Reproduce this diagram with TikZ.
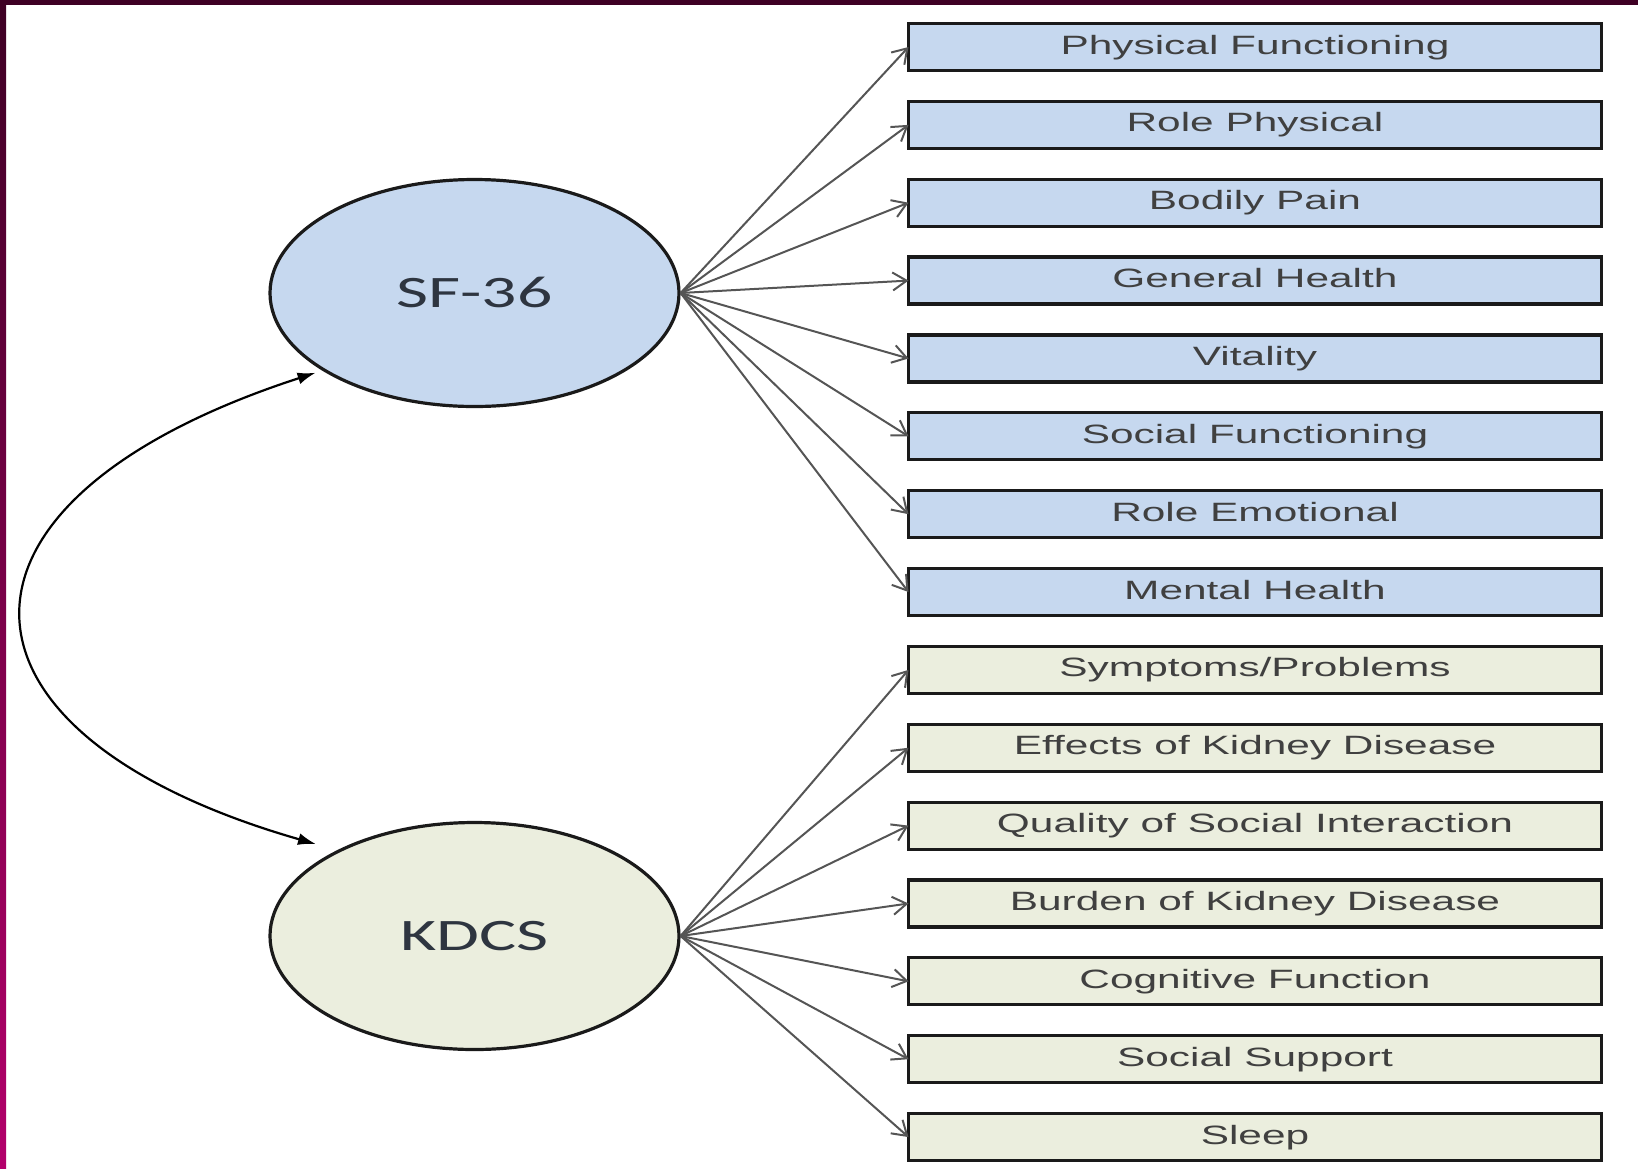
\documentclass[tikz,border=0pt]{standalone}
\usepackage{fontspec}
\usepackage{tikz}
\usetikzlibrary{shapes,arrows,arrows.meta,positioning,calc}
\newfontfamily\boxfont[FakeStretch=1.6]{Liberation Sans}
\newfontfamily\ovalfont[FakeStretch=1.55]{Carlito}
\definecolor{sfblue}{HTML}{C6D8EF}
\definecolor{kdbeige}{HTML}{EBEEDE}
\definecolor{ink}{HTML}{404040}
\definecolor{ovalink}{HTML}{2E3540}
\definecolor{rim}{HTML}{1A1A1A}
\definecolor{wire}{HTML}{555555}
\definecolor{slidetop}{HTML}{3E0024}
\definecolor{slidelow}{HTML}{B3006B}
\tikzstyle{instrument} = [ellipse, draw=rim, line width=3.2pt, minimum width=409pt, minimum height=227pt, inner sep=0pt, text=ovalink, text height=29pt, text depth=0pt, execute at begin node=\ovalfont\fontsize{45}{45}\selectfont]
\tikzstyle{subscale} = [rectangle, draw=rim, line width=3.2pt, minimum width=693pt, minimum height=47pt, inner sep=0pt, outer sep=0pt, text=ink, text height=19pt, text depth=5pt, execute at begin node=\boxfont\fontsize{26.5}{26.5}\selectfont]
\tikzstyle{fan} = [draw, wire, line width=2pt, -{Straight Barb[length=14pt,width=18pt]}]
\tikzstyle{link} = [draw, black, line width=2.2pt, {Latex[length=18pt,width=12pt]}-{Latex[length=18pt,width=12pt]}]

\begin{document}
\begin{tikzpicture}[x=1pt, y=1pt, node distance=30.86pt]
	\useasboundingbox (0,0) rectangle (1638,-1168);
	%Slide frame
	\fill [slidetop] (0,0) rectangle (1638,-5);
	\shade [top color=slidetop, bottom color=slidelow] (0,0) rectangle (6,-1168);

	%Place nodes
	\node [instrument, fill=sfblue] (SF36) at (474.5,-293) {SF-36};
	\node [instrument, fill=kdbeige] (KDCS) at (474.5,-936) {KDCS};

	\node [subscale, fill=sfblue] (PF) at (1255,-47) {Physical Functioning};
	\node [subscale, fill=sfblue, below=of PF] (RP) {Role Physical};
	\node [subscale, fill=sfblue, below=of RP] (BP) {Bodily Pain};
	\node [subscale, fill=sfblue, below=of BP] (GH) {General Health};
	\node [subscale, fill=sfblue, below=of GH] (VT) {Vitality};
	\node [subscale, fill=sfblue, below=of VT] (SocF) {Social Functioning};
	\node [subscale, fill=sfblue, below=of SocF] (RE) {Role Emotional};
	\node [subscale, fill=sfblue, below=of RE] (MH) {Mental Health};

	\node [subscale, fill=kdbeige, below=of MH] (Sym) {Symptoms/Problems};
	\node [subscale, fill=kdbeige, below=of Sym] (Eff) {Effects of Kidney Disease};
	\node [subscale, fill=kdbeige, below=of Eff] (QSI) {Quality of Social Interaction};
	\node [subscale, fill=kdbeige, below=of QSI] (Bur) {Burden of Kidney Disease};
	\node [subscale, fill=kdbeige, below=of Bur] (Cog) {Cognitive Function};
	\node [subscale, fill=kdbeige, below=of Cog] (SSup) {Social Support};
	\node [subscale, fill=kdbeige, below=of SSup] (Slp) {Sleep};

	\path [fan] (SF36.east) -- (PF.west);
	\path [fan] (SF36.east) -- (RP.west);
	\path [fan] (SF36.east) -- (BP.west);
	\path [fan] (SF36.east) -- (GH.west);
	\path [fan] (SF36.east) -- (VT.west);
	\path [fan] (SF36.east) -- (SocF.west);
	\path [fan] (SF36.east) -- (RE.west);
	\path [fan] (SF36.east) -- (MH.west);

	\path [fan] (KDCS.east) -- (Sym.west);
	\path [fan] (KDCS.east) -- (Eff.west);
	\path [fan] (KDCS.east) -- (QSI.west);
	\path [fan] (KDCS.east) -- (Bur.west);
	\path [fan] (KDCS.east) -- (Cog.west);
	\path [fan] (KDCS.east) -- (SSup.west);
	\path [fan] (KDCS.east) -- (Slp.west);

	\path [link, shorten <=7pt, shorten >=22pt] (SF36.207) to[out=198, in=164, looseness=2.25] (KDCS.148);
\end{tikzpicture}
\end{document}
